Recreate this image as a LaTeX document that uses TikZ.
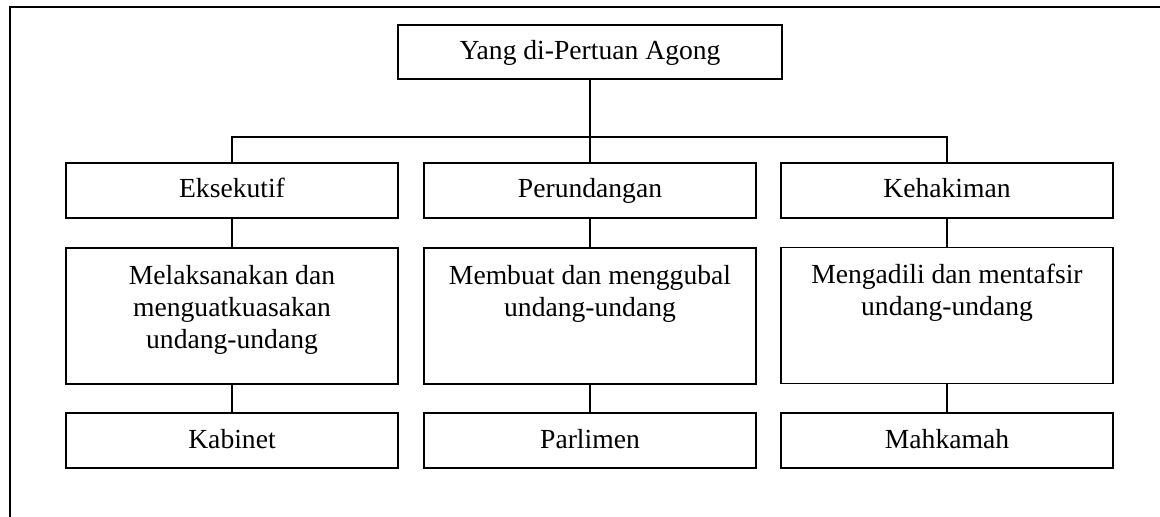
\documentclass[tikz,border=0pt]{standalone}
\usepackage{fontspec}
\setmainfont{Liberation Serif}
\usepackage{tikz}

\tikzset{
	kotak/.style = {draw, line width = 0.9pt, minimum width = 166pt, minimum height = 27.5pt, inner sep = 0pt, font = \fontsize{13.8}{16}\selectfont, execute at begin node = \rule[-3.5pt]{0pt}{14.5pt}},
	tugas/.style = {kotak, minimum height = 68pt, inner xsep = 0pt, inner ysep = 7pt},
	garis/.style = {line width = 0.6pt}
}
\newcommand{\atas}[1]{\parbox[c][54pt][t]{160pt}{\centering\strut #1}}

\begin{document}
\begin{tikzpicture}[x = 0.5pt, y = -0.5pt]
	\useasboundingbox (0,0) rectangle (1160,517);
	\draw[line width = 1pt] (1160,7) -- (10,7) -- (10,517);
	
	\node[kotak, minimum width = 192pt, minimum height = 27pt] (agong) at (590,52) {Yang di-Pertuan Agong};
	
	\node[kotak] (eksekutif) at (232,190.5) {Eksekutif};
	\node[kotak] (perundangan) at (590,190.5) {Perundangan};
	\node[kotak] (kehakiman) at (947,190.5) {Kehakiman};
	
	\node[tugas] (tugasE) at (232,316) {\atas{Melaksanakan dan\\ menguatkuasakan\\ undang-undang}};
	\node[tugas] (tugasP) at (590,316) {\atas{Membuat dan menggubal\\ undang-undang}};
	\node[tugas] (tugasK) at (947,315.5) {\atas{Mengadili dan mentafsir\\ undang-undang}};
	
	\node[kotak] (kabinet) at (232,440.5) {Kabinet};
	\node[kotak] (parlimen) at (590,440.5) {Parlimen};
	\node[kotak] (mahkamah) at (947,440.5) {Mahkamah};
	
	\coordinate (cabang) at (590,137);
	\draw[garis] (agong) -- (perundangan);
	\draw[garis] (eksekutif) |- (cabang) -| (kehakiman);
	
	\draw[garis] (eksekutif) -- (tugasE);
	\draw[garis] (perundangan) -- (tugasP);
	\draw[garis] (kehakiman) -- (tugasK);
	
	\draw[garis] (tugasE) -- (kabinet);
	\draw[garis] (tugasP) -- (parlimen);
	\draw[garis] (tugasK) -- (mahkamah);
	
\end{tikzpicture}
\end{document}
